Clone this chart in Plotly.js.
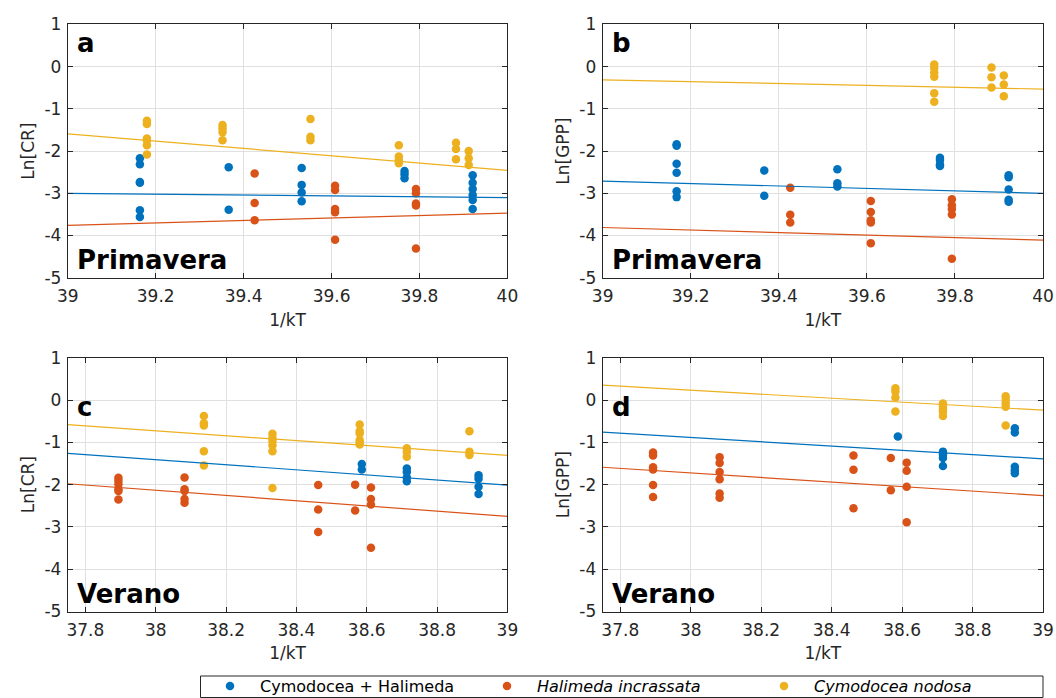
<!DOCTYPE html>
<html>
<head>
<meta charset="utf-8">
<script src="https://cdn.plot.ly/plotly-3.0.1.min.js"></script>
<style>html,body{margin:0;padding:0;background:#fff;overflow:hidden;}#chart{width:1056px;height:698px;}</style>
</head>
<body>
<div id="chart"></div>
<script>
// ---------- series names ----------
const seriesNames = ['Cymodocea + Halimeda', '<i>Halimeda incrassata</i>', '<i>Cymodocea nodosa</i>'];
const seriesColors = ['#0072BD', '#D95319', '#EDB120'];

// ---------- tick labels ----------
const yTickVals = [-5, -4, -3, -2, -1, 0, 1];
const yTickText = ['-5', '-4', '-3', '-2', '-1', '0', '1'];
const xTickValsTop = [39, 39.2, 39.4, 39.6, 39.8, 40];
const xTickTextTop = ['39', '39.2', '39.4', '39.6', '39.8', '40'];
const xTickValsBot = [37.8, 38, 38.2, 38.4, 38.6, 38.8, 39];
const xTickTextBot = ['37.8', '38', '38.2', '38.4', '38.6', '38.8', '39'];

// ---------- panel a : Primavera, Ln[CR] ----------
const aBlueX = [39.164, 39.366, 39.532, 39.766, 39.921];
const aBlueY = [[-2.17, -2.31, -2.73, -2.75, -3.40, -3.56], [-2.38, -3.39], [-2.40, -2.80, -2.98, -3.19], [-2.47, -2.55, -2.64], [-2.57, -2.75, -2.90, -3.04, -3.16, -3.37]];
const aRedX = [39.425, 39.608, 39.792];
const aRedY = [[-2.53, -3.23, -3.64], [-2.82, -2.92, -3.37, -3.45, -4.10], [-2.90, -3.00, -3.24, -3.29, -4.31]];
const aYelX = [39.180, 39.352, 39.552, 39.753, 39.883, 39.912];
const aYelY = [[-1.28, -1.36, -1.70, -1.74, -1.86, -2.08], [-1.38, -1.46, -1.55, -1.74], [-1.24, -1.66, -1.74], [-1.86, -2.13, -2.21, -2.29], [-1.80, -1.95, -2.19], [-2.00, -2.17, -2.33]];
const aFitX = [39, 40];
const aFitBlue = [-3.00, -3.10];
const aFitRed = [-3.76, -3.47];
const aFitYel = [-1.59, -2.455];

// ---------- panel b : Primavera, Ln[GPP] ----------
const bBlueX = [39.168, 39.367, 39.533, 39.766, 39.922];
const bBlueY = [[-1.84, -1.87, -2.30, -2.51, -2.95, -3.09], [-2.46, -3.06], [-2.43, -2.76, -2.84], [-2.16, -2.21, -2.32, -2.35], [-2.57, -2.62, -2.91, -3.15, -3.20]];
const bRedX = [39.426, 39.609, 39.793];
const bRedY = [[-2.87, -3.51, -3.69], [-3.18, -3.44, -3.64, -3.69, -4.18], [-3.14, -3.28, -3.37, -3.50, -4.55]];
const bYelX = [39.753, 39.883, 39.911];
const bYelY = [[0.05, -0.03, -0.14, -0.24, -0.63, -0.83], [-0.02, -0.25, -0.49], [-0.21, -0.42, -0.70]];
const bFitX = [39, 40];
const bFitBlue = [-2.71, -3.00];
const bFitRed = [-3.81, -4.11];
const bFitYel = [-0.31, -0.53];

// ---------- panel c : Verano, Ln[CR] ----------
const cBlueX = [38.586, 38.714, 38.918];
const cBlueY = [[-1.51, -1.64], [-1.62, -1.70, -1.83, -1.92], [-1.78, -1.86, -2.05, -2.22]];
const cRedX = [37.894, 38.082, 38.462, 38.567, 38.612];
const cRedY = [[-1.84, -1.91, -1.99, -2.11, -2.15, -2.35], [-1.83, -2.11, -2.15, -2.34, -2.43], [-2.01, -2.59, -3.12], [-2.00, -2.61], [-2.07, -2.34, -2.47, -3.49]];
const cYelX = [38.137, 38.332, 38.580, 38.714, 38.892];
const cYelY = [[-0.38, -0.55, -0.60, -1.21, -1.55], [-0.80, -0.89, -0.97, -1.07, -1.21, -2.08], [-0.58, -0.73, -0.79, -0.95, -1.01, -1.05], [-1.14, -1.23, -1.34], [-0.74, -1.22, -1.30]];
const cFitX = [37.75, 39];
const cFitBlue = [-1.26, -2.01];
const cFitRed = [-1.98, -2.75];
const cFitYel = [-0.58, -1.31];

// ---------- panel d : Verano, Ln[GPP] ----------
const dBlueX = [38.588, 38.716, 38.920];
const dBlueY = [[-0.86], [-1.22, -1.29, -1.37, -1.56], [-0.67, -0.77, -1.58, -1.66, -1.73]];
const dRedX = [37.893, 38.082, 38.462, 38.568, 38.613];
const dRedY = [[-1.24, -1.31, -1.59, -1.64, -2.01, -2.29], [-1.35, -1.49, -1.70, -1.87, -2.21, -2.31], [-1.31, -1.65, -2.56], [-1.37, -2.13], [-1.48, -1.67, -2.05, -2.89]];
const dYelX = [38.581, 38.716, 38.894];
const dYelY = [[0.28, 0.20, 0.06, -0.27], [-0.08, -0.14, -0.22, -0.28, -0.38], [0.09, 0.00, -0.08, -0.16, -0.60]];
const dFitX = [37.75, 39];
const dFitBlue = [-0.76, -1.39];
const dFitRed = [-1.59, -2.26];
const dFitYel = [0.35, -0.24];

// ---------- build traces ----------
function expand(xs, ys) {
  const X = [], Y = [];
  xs.forEach((x, i) => ys[i].forEach(v => { X.push(x); Y.push(v); }));
  return { X, Y };
}
const FONT = 'DejaVu Sans, sans-serif';
const traces = [];
const panels = [
  { xa: 'x', ya: 'y', groups: [[aBlueX, aBlueY], [aRedX, aRedY], [aYelX, aYelY]], fx: aFitX, fits: [aFitBlue, aFitRed, aFitYel], legend: true },
  { xa: 'x2', ya: 'y2', groups: [[bBlueX, bBlueY], [bRedX, bRedY], [bYelX, bYelY]], fx: bFitX, fits: [bFitBlue, bFitRed, bFitYel], legend: false },
  { xa: 'x3', ya: 'y3', groups: [[cBlueX, cBlueY], [cRedX, cRedY], [cYelX, cYelY]], fx: cFitX, fits: [cFitBlue, cFitRed, cFitYel], legend: false },
  { xa: 'x4', ya: 'y4', groups: [[dBlueX, dBlueY], [dRedX, dRedY], [dYelX, dYelY]], fx: dFitX, fits: [dFitBlue, dFitRed, dFitYel], legend: false }
];
panels.forEach(p => {
  p.groups.forEach((g, k) => {
    const e = expand(g[0], g[1]);
    traces.push({
      type: 'scatter', mode: 'markers', x: e.X, y: e.Y, xaxis: p.xa, yaxis: p.ya,
      name: seriesNames[k], legendgroup: 's' + k, showlegend: p.legend,
      marker: { color: seriesColors[k], size: 8.5 }, hoverinfo: 'x+y'
    });
  });
  p.fits.forEach((f, k) => {
    traces.push({
      type: 'scatter', mode: 'lines', x: p.fx, y: f, xaxis: p.xa, yaxis: p.ya,
      legendgroup: 's' + k, showlegend: false,
      line: { color: seriesColors[k], width: 1.2 }, hoverinfo: 'skip'
    });
  });
});

// ---------- layout ----------
const AX = '#262626';
function xAxis(domain, anchor, range, tv, tt) {
  return {
    domain, anchor, range, tickvals: tv, ticktext: tt,
    showline: true, linecolor: AX, linewidth: 1, mirror: 'ticks',
    ticks: 'inside', ticklen: 5, tickcolor: AX, tickwidth: 1,
    showgrid: true, gridcolor: '#e0e0e0', gridwidth: 1, zeroline: false,
    tickfont: { family: FONT, size: 17, color: AX }, ticklabelstandoff: 3,
    title: { text: '1/kT', font: { family: FONT, size: 17, color: AX }, standoff: 8 },
    automargin: false, fixedrange: true
  };
}
function yAxis(domain, anchor, title) {
  return {
    domain, anchor, range: [-5, 1], tickvals: yTickVals, ticktext: yTickText,
    showline: true, linecolor: AX, linewidth: 1, mirror: 'ticks',
    ticks: 'inside', ticklen: 5, tickcolor: AX, tickwidth: 1,
    showgrid: true, gridcolor: '#e0e0e0', gridwidth: 1, zeroline: false,
    tickfont: { family: FONT, size: 17, color: AX }, ticklabelstandoff: 2,
    title: { text: title, font: { family: FONT, size: 17, color: AX }, standoff: 5 },
    automargin: false, fixedrange: true
  };
}
const topDom = [0.6021, 0.9649], botDom = [0.1239, 0.4875];
const leftDom = [0.0642, 0.4805], rightDom = [0.5707, 0.9877];

function label(text, x, y) {
  return { text: '<b>' + text + '</b>', xref: 'paper', yref: 'paper', x, y, xanchor: 'left', yanchor: 'middle',
    showarrow: false, font: { family: FONT, size: 26, color: '#000' } };
}

const layout = {
  width: 1056, height: 698,
  margin: { l: 0, r: 0, t: 0, b: 0, autoexpand: false },
  paper_bgcolor: '#fff', plot_bgcolor: '#fff',
  font: { family: FONT, color: AX },
  xaxis: xAxis(leftDom, 'y', [39, 40], xTickValsTop, xTickTextTop),
  xaxis2: xAxis(rightDom, 'y2', [39, 40], xTickValsTop, xTickTextTop),
  xaxis3: xAxis(leftDom, 'y3', [37.75, 39], xTickValsBot, xTickTextBot),
  xaxis4: xAxis(rightDom, 'y4', [37.75, 39], xTickValsBot, xTickTextBot),
  yaxis: yAxis(topDom, 'x', 'Ln[CR]'),
  yaxis2: yAxis(topDom, 'x2', 'Ln[GPP]'),
  yaxis3: yAxis(botDom, 'x3', 'Ln[CR]'),
  yaxis4: yAxis(botDom, 'x4', 'Ln[GPP]'),
  showlegend: true,
  legend: {
    orientation: 'h', x: 200 / 1056, y: 1 - 669 / 698, xanchor: 'left', yanchor: 'top',
    borderwidth: 0, bgcolor: 'rgba(0,0,0,0)',
    font: { family: FONT, size: 16, color: '#000' },
    itemwidth: 50, entrywidth: 212, entrywidthmode: 'pixels', tracegroupgap: 0
  },
  shapes: [
    { type: 'rect', xref: 'paper', yref: 'paper', x0: 200.5 / 1056, x1: 1043 / 1056, y0: 1 - 697.5 / 698, y1: 1 - 676 / 698,
      line: { color: AX, width: 1 }, fillcolor: 'rgba(0,0,0,0)', layer: 'above' }
  ],
  annotations: [
    label('a', 0.071, 1 - 43 / 698),
    label('b', 0.5775, 1 - 43 / 698),
    label('Primavera', 0.071, 1 - 260 / 698),
    label('Primavera', 0.5775, 1 - 260 / 698),
    label('c', 0.071, 1 - 407 / 698),
    label('d', 0.5775, 1 - 407 / 698),
    label('Verano', 0.071, 1 - 594 / 698),
    label('Verano', 0.5775, 1 - 594 / 698)
  ]
};

Plotly.newPlot('chart', traces, layout, { displayModeBar: false, staticPlot: true });
</script>
</body>
</html>
